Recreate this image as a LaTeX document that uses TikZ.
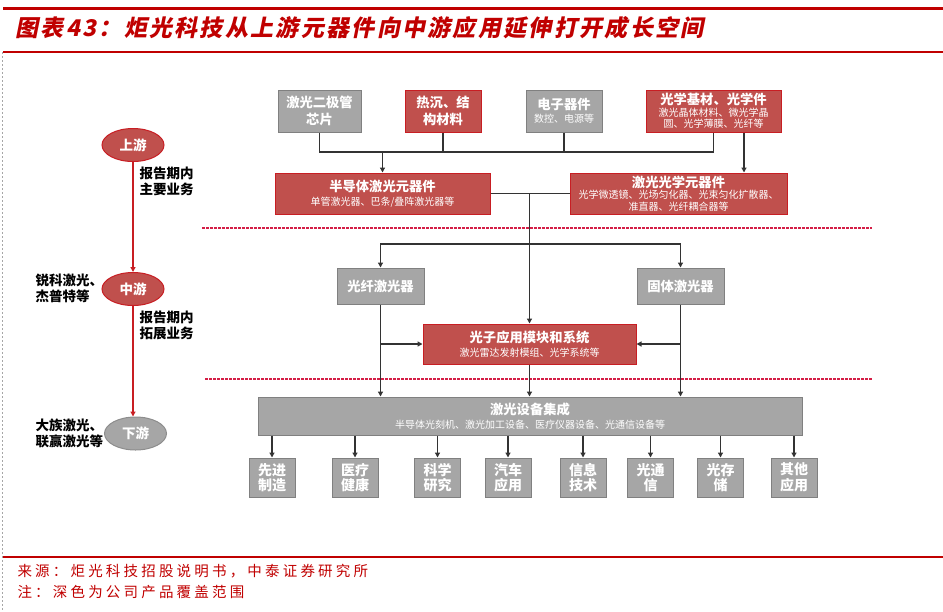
\documentclass[tikz,border=0pt]{standalone}
\usepackage{fontspec}
\setmainfont{Noto Sans CJK SC}
\newfontfamily\titlefont{Noto Sans CJK SC}[FakeSlant=0.2,LetterSpace=10]
\newfontfamily\notefont{Noto Sans CJK SC}[LetterSpace=22]
\usetikzlibrary{arrows.meta, positioning, calc, shapes.geometric}
\definecolor{boxred}{RGB}{192,80,77}
\definecolor{edgered}{RGB}{200,30,35}
\definecolor{boxgray}{RGB}{166,166,166}
\definecolor{edgegray}{RGB}{128,128,128}
\definecolor{titlered}{RGB}{192,0,0}
\definecolor{sepred}{RGB}{212,30,70}
\newcommand\hd[1]{{\fontsize{13.3}{16}\selectfont\bfseries #1}}
\newcommand\subt[1]{{\fontsize{10}{12}\selectfont #1}}

\begin{document}
\begin{tikzpicture}[x=1pt, y=-1pt, >={Triangle[length=5pt,width=5pt]},
  redbox/.style={draw=edgered, fill=boxred, line width=1pt, text=white, align=center, inner sep=0pt, font=\fontsize{10}{12.5}\selectfont},
  graybox/.style={draw=edgegray, fill=boxgray, line width=1pt, text=white, align=center, inner sep=0pt, font=\fontsize{10}{12.5}\selectfont},
  bigtext/.style={font=\fontsize{13.3}{17}\selectfont\bfseries},
  apptext/.style={font=\fontsize{14}{15.5}\selectfont\bfseries},
  stage/.style={ellipse, line width=1pt, text=white, minimum width=62pt, minimum height=33pt, inner sep=0pt, font=\fontsize{13.5}{16}\selectfont\bfseries},
  sidetext/.style={anchor=west, align=left, font=\fontsize{13.5}{16}\selectfont\bfseries},
  link/.style={black!80, line width=1.4pt}]
\useasboundingbox (0,0) rectangle (943,611);
% frame of the page
\draw[titlered, line width=3pt] (3,8) -- (943,8);
\draw[titlered, line width=1.2pt] (3,52) -- (943,52);
\draw[titlered, line width=1.3pt] (3,557) -- (943,557);
\draw[black!35, dash pattern=on 2pt off 2pt] (2.5,52) -- (2.5,611);
\node[anchor=west, text=titlered, font=\titlefont\fontsize{23}{26}\selectfont\bfseries] (title) at (12,28) {图表43：炬光科技从上游元器件向中游应用延伸打开成长空间};
\node[anchor=west, text=titlered, font=\notefont\fontsize{14.5}{17}\selectfont] (src) at (14,571) {来源：炬光科技招股说明书，中泰证券研究所};
\node[anchor=west, text=titlered, font=\notefont\fontsize{14.5}{17}\selectfont] (note) at (14,592) {注：深色为公司产品覆盖范围};

% the three stages on the left
\node[stage, fill=boxred, draw=edgered] (up) at (133,145) {上游};
\node[stage, fill=boxred, draw=edgered] (mid) at (133,289) {中游};
\node[stage, fill=boxgray, draw=boxgray!85!black] (down) at (135.5,433.5) {下游};
\draw[->, edgered, line width=1.2pt] (up) -- (mid);
\draw[->, edgered, line width=1.2pt] (mid.south) -- (mid.south |- down.north);
\node[sidetext] (mainbiz) at (136,181) {报告期内\\主要业务};
\node[sidetext] (newbiz) at (136,325) {报告期内\\拓展业务};
\node[sidetext] (midpeers) at (32,288) {锐科激光、\\杰普特等};
\node[sidetext] (downpeers) at (32,433) {大族激光、\\联赢激光等};

% stage borders
\draw[sepred, line width=1.1pt, dash pattern=on 3pt off 1pt] (202,228) -- (872,228);
\draw[sepred, line width=1.1pt, dash pattern=on 3pt off 1pt] (205,379) -- (872,379);

% upstream materials
\node[graybox, bigtext, minimum width=83pt, minimum height=42pt] (chip) at (319.5,111) {激光二极管\\芯片};
\node[redbox, bigtext, minimum width=76pt, minimum height=42pt] (heat) at (443,111) {热沉、结\\构材料};
\node[graybox, minimum width=76pt, minimum height=42pt] (elec) at (564,111) {\hd{电子器件}\\[1pt]\subt{数控、电源等}};
\node[redbox, minimum width=135pt, minimum height=42pt, font=\fontsize{10}{11.5}\selectfont] (optmat) at (713.5,111) {\hd{光学基材、光学件}\\\subt{激光晶体材料、微光学晶}\\\subt{圆、光学薄膜、光纤等}};

% upstream components
\node[redbox, minimum width=215pt, minimum height=41pt] (semi) at (382.5,193.5) {\hd{半导体激光元器件}\\[1pt]\subt{单管激光器、巴条/叠阵激光器等}};
\node[redbox, minimum width=217pt, minimum height=41pt, font=\fontsize{10}{11.5}\selectfont] (optel) at (678.5,193.5) {\hd{激光光学元器件}\\\subt{光学微透镜、光场匀化器、光束匀化扩散器、}\\\subt{准直器、光纤耦合器等}};

\coordinate (bus) at (0,152);
\coordinate (optdrop) at ($(optmat.south)+(30.5,0)$);
\draw[link] (chip.south) -- (chip.south |- bus) -- (optmat.south |- bus) -- (optmat.south);
\draw[link] (heat.south) -- (heat.south |- bus);
\draw[link] (elec.south) -- (elec.south |- bus);
\draw[link, ->] (semi.north |- bus) -- (semi.north);
\draw[link, ->] (optdrop) -- (optdrop |- optel.north);

% midstream
\node[graybox, bigtext, minimum width=87pt, minimum height=36pt] (fiber) at (380.5,286) {光纤激光器};
\node[graybox, bigtext, minimum width=87pt, minimum height=36pt] (solid) at (680.5,286) {固体激光器};
\node[redbox, minimum width=213pt, minimum height=40pt] (photon) at (529.5,344) {\hd{光子应用模块和系统}\\[1pt]\subt{激光雷达发射模组、光学系统等}};

\coordinate (split) at (529.5,244);
\draw[link] (semi.east) -- (optel.west);
\draw[link, ->] (semi.east -| photon.north) -- (photon.north);
\draw[link, ->] (split) -| (fiber.north);
\draw[link, ->] (split) -| (solid.north);

% downstream
\node[graybox, minimum width=544pt, minimum height=38pt] (integ) at (530,416) {\hd{激光设备集成}\\[1pt]\subt{半导体光刻机、激光加工设备、医疗仪器设备、光通信设备等}};
\draw[link, ->] (fiber.south) -- (fiber.south |- integ.north);
\draw[link, ->] (solid.south) -- (solid.south |- integ.north);
\draw[link, ->] (fiber.south |- photon.west) -- (photon.west);
\draw[link, ->] (solid.south |- photon.east) -- (photon.east);
\draw[link, ->] (photon.south) -- (photon.south |- integ.north);

\foreach \n/\x/\txt in {mfg/272/先进\\制造, med/355/医疗\\健康, sci/437.5/科学\\研究, car/508/汽车\\应用, info/583/信息\\技术, comm/650.5/光通\\信, stor/720.5/光存\\储, other/794/其他\\应用}{
  \node[graybox, apptext, minimum width=46pt, minimum height=39pt] (\n) at (\x,477.5) {\txt};
  \draw[link, ->] (\n.north |- integ.south) -- (\n.north);
}
\end{tikzpicture}
\end{document}
